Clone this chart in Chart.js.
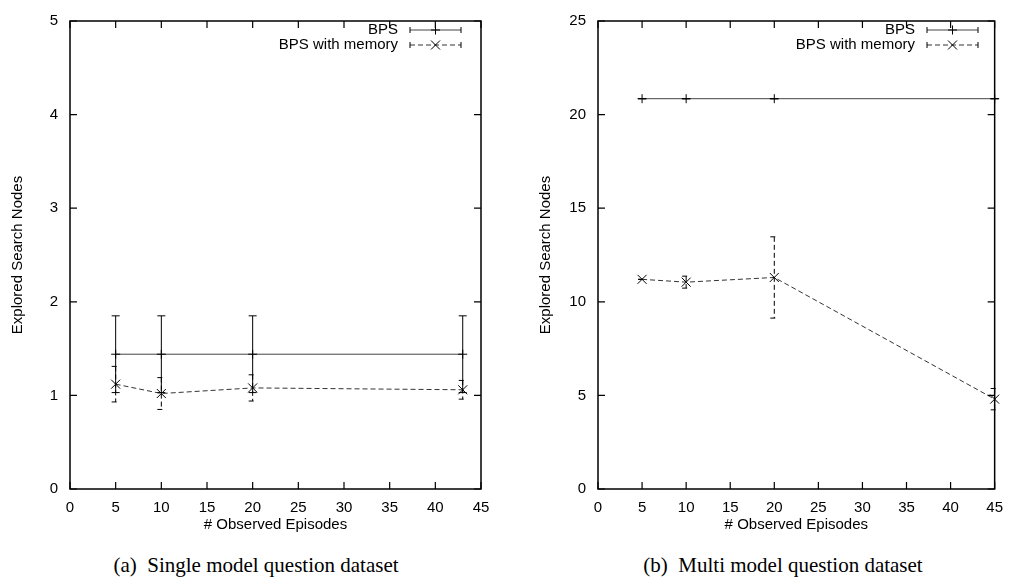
<!DOCTYPE html>
<html>
<head>
<meta charset="utf-8">
<script src="https://cdn.jsdelivr.net/npm/chart.js@4.4.0/dist/chart.umd.min.js"></script>
<style>
  body { margin: 0; background: #fff; width: 1013px; height: 586px; position: relative; overflow: hidden; }
  canvas { position: absolute; top: 0; }
  #chartA { left: 0; }
  #chartB { left: 528px; }
  .caption { position: absolute; top: 553px; width: 500px; text-align: center; white-space: pre;
             font-family: "Liberation Serif", "Times New Roman", serif; font-size: 21px; color: #000; }
</style>
</head>
<body>
<canvas id="chartA" width="506" height="540"></canvas>
<canvas id="chartB" width="485" height="540"></canvas>
<div class="caption" style="left:6px">(a)  Single model question dataset</div>
<div class="caption" style="left:533px">(b)  Multi model question dataset</div>
<script>
// (a) single model question dataset
const episodesA = [5, 10, 20, 43];
const bpsA = [1.44, 1.44, 1.44, 1.44];
const bpsErrA = [0.41, 0.41, 0.41, 0.41];
const memoryA = [1.12, 1.02, 1.08, 1.06];
const memoryErrA = [0.19, 0.17, 0.14, 0.10];

// (b) multi model question dataset
const episodesB = [5, 10, 20, 45];
const bpsB = [20.85, 20.85, 20.85, 20.85];
const bpsErrB = [0, 0, 0, 0];
const memoryB = [11.2, 11.05, 11.3, 4.8];
const memoryErrB = [0, 0.32, 2.17, 0.57];

const seriesNames = ["BPS", "BPS with memory"];
const xTicks = [0, 5, 10, 15, 20, 25, 30, 35, 40, 45];

Chart.defaults.font.family = '"Liberation Sans", Arial, sans-serif';
Chart.defaults.font.size = 15;
Chart.defaults.color = "#000";

function toPoints(xs, ys) {
  return xs.map((x, i) => ({ x: x, y: ys[i] }));
}

function drawMarker(ctx, style, x, y) {
  ctx.beginPath();
  if (style === "cross") {
    ctx.moveTo(x - 4.5, y); ctx.lineTo(x + 4.5, y);
    ctx.moveTo(x, y - 4.5); ctx.lineTo(x, y + 4.5);
  } else {
    ctx.moveTo(x - 4.5, y - 4.5); ctx.lineTo(x + 4.5, y + 4.5);
    ctx.moveTo(x - 4.5, y + 4.5); ctx.lineTo(x + 4.5, y - 4.5);
  }
  ctx.stroke();
}

// error bars, border with inward ticks, and the key
const gnuplotStyle = {
  id: "gnuplotStyle",
  afterDatasetsDraw(chart) {
    const ctx = chart.ctx;
    const xs = chart.scales.x, ys = chart.scales.y;
    chart.data.datasets.forEach((ds) => {
      ctx.save();
      ctx.strokeStyle = "#000";
      ctx.lineWidth = 1;
      ctx.setLineDash(ds.borderDash || []);
      ds.data.forEach((p, j) => {
        const e = ds.yErr[j];
        const px = xs.getPixelForValue(p.x);
        const top = ys.getPixelForValue(p.y + e);
        const bot = ys.getPixelForValue(p.y - e);
        ctx.beginPath();
        ctx.moveTo(px, top); ctx.lineTo(px, bot);
        ctx.moveTo(px - 4, top); ctx.lineTo(px + 4, top);
        ctx.moveTo(px - 4, bot); ctx.lineTo(px + 4, bot);
        ctx.stroke();
      });
      ctx.setLineDash([]);
      ds.data.forEach((p) => {
        drawMarker(ctx, ds.marker, xs.getPixelForValue(p.x), ys.getPixelForValue(p.y));
      });
      ctx.restore();
    });
  },
  afterDraw(chart, args, opts) {
    const ctx = chart.ctx;
    const a = chart.chartArea;
    const xs = chart.scales.x, ys = chart.scales.y;
    ctx.save();
    ctx.strokeStyle = "#000";
    ctx.lineWidth = 1.5;
    ctx.strokeRect(a.left, a.top, a.right - a.left, a.bottom - a.top);
    ctx.lineWidth = 1.2;
    ctx.beginPath();
    xs.ticks.forEach((t) => {
      const px = xs.getPixelForValue(t.value);
      ctx.moveTo(px, a.bottom); ctx.lineTo(px, a.bottom - 7);
      ctx.moveTo(px, a.top); ctx.lineTo(px, a.top + 7);
    });
    ys.ticks.forEach((t) => {
      const py = ys.getPixelForValue(t.value);
      ctx.moveTo(a.left, py); ctx.lineTo(a.left + 7, py);
      ctx.moveTo(a.right, py); ctx.lineTo(a.right - 7, py);
    });
    ctx.stroke();

    // key
    ctx.font = '15px "Liberation Sans", Arial, sans-serif';
    ctx.fillStyle = "#000";
    ctx.textAlign = "right";
    ctx.textBaseline = "middle";
    chart.data.datasets.forEach((ds, i) => {
      const y = opts.keyTop + i * 15;
      ctx.fillText(ds.label, opts.keyText, y);
      const s0 = opts.keyText + 12, s1 = s0 + 51;
      ctx.strokeStyle = ds.borderColor;
      ctx.lineWidth = 1;
      ctx.setLineDash(ds.borderDash || []);
      ctx.beginPath();
      ctx.moveTo(s0, y); ctx.lineTo(s1, y);
      ctx.stroke();
      ctx.setLineDash([]);
      ctx.strokeStyle = "#000";
      ctx.beginPath();
      ctx.moveTo(s0, y - 3); ctx.lineTo(s0, y + 3);
      ctx.moveTo(s1, y - 3); ctx.lineTo(s1, y + 3);
      ctx.stroke();
      drawMarker(ctx, ds.marker, (s0 + s1) / 2, y);
    });
    ctx.restore();
  }
};

function makePanel(id, episodes, bps, bpsErr, memory, memoryErr, yMax, yStep, rightPad, keyText) {
  return new Chart(document.getElementById(id), {
    type: "scatter",
    data: {
      datasets: [
        {
          label: seriesNames[0],
          data: toPoints(episodes, bps),
          yErr: bpsErr,
          marker: "cross",
          showLine: true,
          borderColor: "#444",
          borderWidth: 1,
          pointRadius: 0,
          tension: 0,
        },
        {
          label: seriesNames[1],
          data: toPoints(episodes, memory),
          yErr: memoryErr,
          marker: "x",
          showLine: true,
          borderColor: "#333",
          borderDash: [5, 3],
          borderWidth: 1,
          pointRadius: 0,
          tension: 0,
        },
      ],
    },
    options: {
      responsive: false,
      animation: false,
      layout: { padding: { top: 18, right: rightPad, left: 0, bottom: 0 } },
      plugins: {
        legend: { display: false },
        tooltip: { enabled: false },
        gnuplotStyle: { keyText: keyText, keyTop: 30 },
      },
      scales: {
        x: {
          type: "linear",
          min: 0,
          max: 45,
          afterBuildTicks: (s) => { s.ticks = xTicks.map((v) => ({ value: v })); },
          ticks: { padding: 10, autoSkip: false, maxRotation: 0 },
          grid: { display: false, drawTicks: false },
          border: { display: false },
          title: { display: true, text: "# Observed Episodes", padding: { bottom: 6, top: 0 } },
          afterFit: (s) => { s.height = 51; },
        },
        y: {
          type: "linear",
          min: 0,
          max: yMax,
          ticks: { stepSize: yStep, padding: 12 },
          grid: { display: false, drawTicks: false },
          border: { display: false },
          title: { display: true, text: "Explored Search Nodes", padding: { top: 9, bottom: 0 } },
          afterFit: (s) => { s.width = 70; },
        },
      },
    },
    plugins: [gnuplotStyle],
  });
}

makePanel("chartA", episodesA, bpsA, bpsErrA, memoryA, memoryErrA, 5, 1, 25, 398);
makePanel("chartB", episodesB, bpsB, bpsErrB, memoryB, memoryErrB, 25, 5, 15, 387);
</script>
</body>
</html>
